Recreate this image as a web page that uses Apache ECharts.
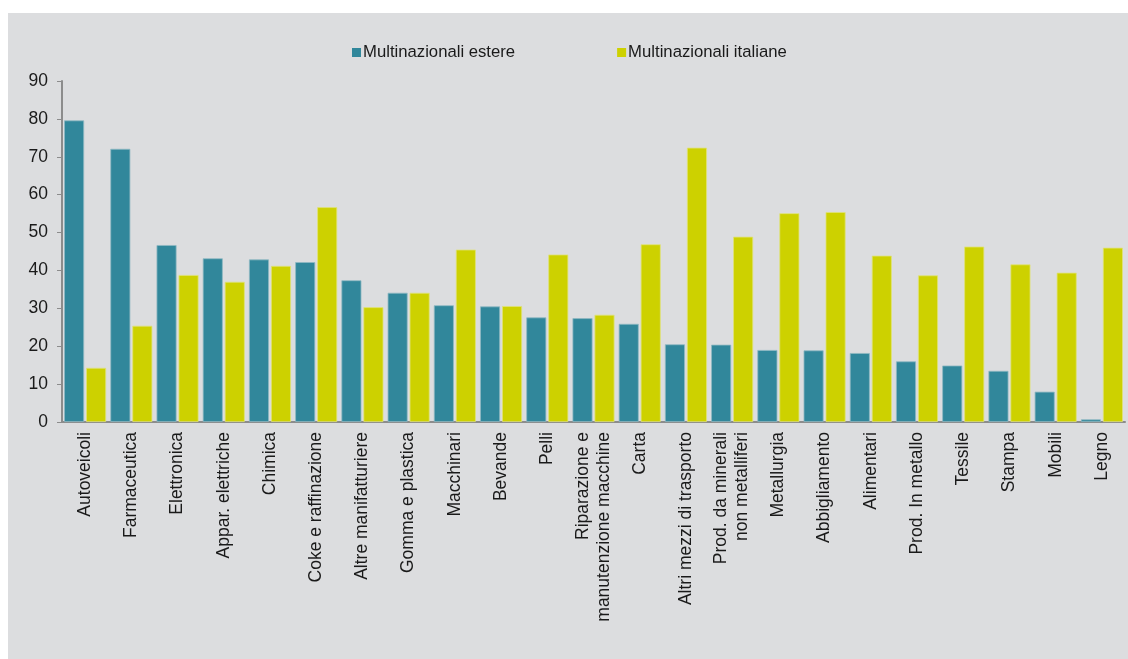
<!DOCTYPE html>
<html>
<head>
<meta charset="utf-8">
<script src="https://cdn.jsdelivr.net/npm/echarts@6/dist/echarts.min.js"></script>
<style>
  html, body { margin: 0; padding: 0; background: #ffffff; }
  #main { width: 1128px; height: 659px; }
</style>
</head>
<body>
<div id="main"></div>
<script>
var categories = [
  "Autoveicoli", "Farmaceutica", "Elettronica", "Appar. elettriche", "Chimica",
  "Coke e raffinazione", "Altre manifatturiere", "Gomma e plastica", "Macchinari",
  "Bevande", "Pelli", "Riparazione e\nmanutenzione macchine", "Carta",
  "Altri mezzi di trasporto", "Prod. da minerali\nnon metalliferi", "Metallurgia",
  "Abbigliamento", "Alimentari", "Prod. In metallo", "Tessile", "Stampa", "Mobili", "Legno"
];
var estere = [79.6, 72.1, 46.7, 43.2, 42.9, 42.2, 37.4, 34.1, 30.8, 30.5, 27.6, 27.4, 25.9,
  20.5, 20.4, 19.0, 18.9, 18.2, 16.0, 14.9, 13.5, 8.0, 0.7];
var italiane = [14.3, 25.4, 38.8, 37.0, 41.2, 56.7, 30.3, 34.1, 45.5, 30.6, 44.2, 28.3, 46.9,
  72.4, 48.9, 55.1, 55.4, 43.9, 38.7, 46.3, 41.6, 39.4, 46.0];
var yTicks = [0, 10, 20, 30, 40, 50, 60, 70, 80, 90];

var chartDom = document.getElementById("main");
var myChart = echarts.init(chartDom);
var option;

var font = "'Liberation Sans', Arial, sans-serif";

option = {
  animation: false,
  textStyle: { fontFamily: font },
  graphic: [
    {
      type: "rect",
      z: -10,
      silent: true,
      shape: { x: 8, y: 13, width: 1120, height: 646 },
      style: { fill: "#dcdddf" }
    }
  ],
  legend: {
    top: 44,
    left: 352,
    padding: 0,
    itemWidth: 9,
    itemHeight: 9,
    itemGap: 102,
    icon: "rect",
    itemStyle: { borderWidth: 0 },
    textStyle: { fontSize: 16.7, color: "#1a1a1a", fontFamily: font, padding: [0, 0, 0, -3] },
    data: ["Multinazionali estere", "Multinazionali italiane"]
  },
  grid: { left: 62, right: 3, top: 81, bottom: 237 },
  xAxis: {
    type: "category",
    data: categories,
    axisLine: { lineStyle: { color: "#8c8c8c", width: 2 } },
    axisTick: { length: 5, lineStyle: { color: "#8c8c8c" } },
    axisLabel: {
      rotate: 90,
      interval: 0,
      margin: 10,
      fontSize: 17.5,
      color: "#1a1a1a",
      fontFamily: font,
      lineHeight: 21
    }
  },
  yAxis: {
    type: "value",
    min: 0,
    max: 90,
    interval: yTicks[1] - yTicks[0],
    splitLine: { show: false },
    axisLine: { show: true, lineStyle: { color: "#8c8c8c", width: 2 } },
    axisTick: { show: true, length: 5, lineStyle: { color: "#8c8c8c" } },
    axisLabel: { fontSize: 17.5, color: "#1a1a1a", margin: 14, fontFamily: font }
  },
  series: [
    {
      name: "Multinazionali estere",
      type: "bar",
      data: estere,
      barWidth: 20,
      barGap: "10%",
      itemStyle: { color: "#31879b", borderColor: "#8fb9c3", borderWidth: 0.8 }
    },
    {
      name: "Multinazionali italiane",
      type: "bar",
      data: italiane,
      barWidth: 20,
      itemStyle: { color: "#cdd100", borderColor: "#dfe27a", borderWidth: 0.8 }
    }
  ]
};

option && myChart.setOption(option);
</script>
</body>
</html>
